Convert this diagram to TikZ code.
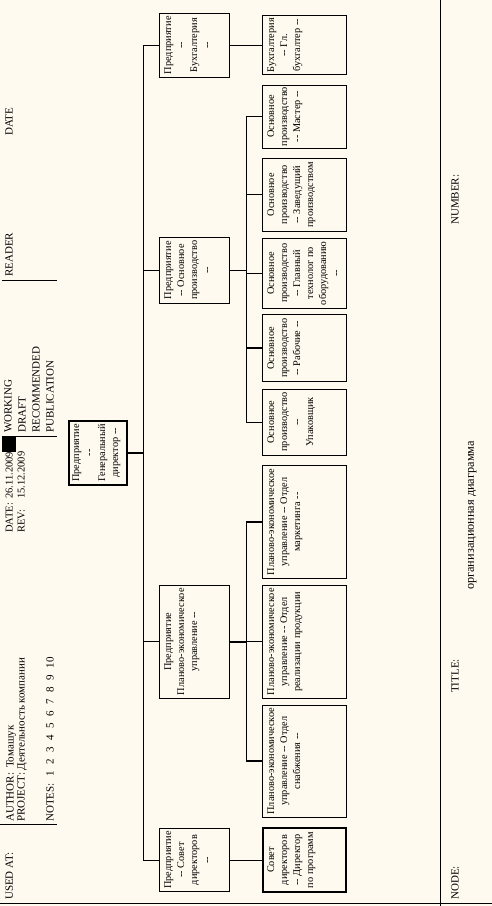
\documentclass[tikz,border=0pt]{standalone}
\usepackage{fontspec}
\setmainfont{Liberation Serif}
\usetikzlibrary{calc}
\definecolor{bgc}{RGB}{255,250,240}
\newcommand{\dsh}{-\kern0pt-}
\begin{document}
\begin{tikzpicture}[x=1pt,y=-1pt,
  box/.style={draw, line width=1pt, inner sep=0pt, outer sep=0pt},
  tbox/.style={box, line width=1.8pt},
  txt/.style={rotate=90, anchor=north, align=center, inner sep=0pt, font=\fontsize{10.3}{13}\selectfont},
  hd/.style={rotate=90, anchor=base west, inner sep=0pt, font=\fontsize{11}{13}\selectfont},
  hds/.style={hd, font=\fontsize{10.5}{13}\selectfont},
  ttl/.style={rotate=90, anchor=base west, inner sep=0pt, font=\fontsize{12.3}{14}\selectfont},
  frm/.style={line width=1pt},
  conn/.style={line width=1pt},
  tconn/.style={line width=2pt}]
\fill[bgc] (0,0) rectangle (492,906);
\useasboundingbox (0,0) rectangle (492,906);

% ---- header (left strip)
\node[hd] (usedat) at (12.8,900) {USED AT:};
\draw[frm] (0,824) -- (57,824);
\node[hd] (author) at (13.6,822) {AUTHOR:\hspace{5pt}Томашук};
\node[hd] (project) at (24.6,822) {PROJECT: Деятельность компании};
\node[hd] (notes) at (53.6,822) {NOTES:\hspace{7pt}1\hspace{6.5pt}2\hspace{6.5pt}3\hspace{6.5pt}4\hspace{6.5pt}5\hspace{6.5pt}6\hspace{6.5pt}7\hspace{6.5pt}8\hspace{6.5pt}9\hspace{6.5pt}10};
\node[hds] (date) at (12.6,533) {DATE:};
\node[hds] (datev) at (12.6,499) {26.11.2009};
\node[hds] (rev) at (24.6,533) {REV:};
\node[hds] (revv) at (24.6,499) {15.12.2009};
\fill[black] (2,436) rectangle (15,452);
\draw[frm] (15,436) -- (57,436);
\draw[frm] (15,436) -- (15,452);
\node[hd] (working) at (11.6,433) {WORKING};
\node[hd] (draft) at (25.6,433) {DRAFT};
\node[hd] (recom) at (39.6,433) {RECOMMENDED};
\node[hd] (publ) at (53.6,433) {PUBLICATION};
\draw[frm] (2,280) -- (57,280);
\node[hd] (reader) at (12.6,277) {READER};
\node[hd] (date2) at (12.6,136) {DATE};

% ---- footer (right strip)
\draw[frm] (0,903) -- (492,903);
\draw[frm] (440,0) -- (440,906);
\node[hd] (node) at (458.6,900) {NODE:};
\node[hd] (title) at (458.6,693) {TITLE:};
\node[ttl] (titlev) at (473.8,590) {организационная диаграмма};
\node[hd] (number) at (458.6,225) {NUMBER:};

% ---- root
\node[tbox, minimum width=57.4pt, minimum height=64.3pt] (root) at (98,452.8) {};
\node[txt] (roott) at ($(root.west)+(3,0)$) {Предприятие\\\dsh\\Генеральный\\директор \dsh};

% ---- level 1 (x 159.3..229.3)
\node[box, minimum width=70pt, minimum height=63.7pt] (l1a) at (194.3,860) {};
\node[txt] at ($(l1a.west)+(5,0)$) {Предприятие\\\dsh{} Совет\\директоров\\\dsh};
\node[box, minimum width=70pt, minimum height=113.3pt] (l1b) at (194.3,641.7) {};
\node[txt] at ($(l1b.west)+(5,0)$) {Предприятие\\Планово-экономическое\\управление \dsh};
\node[box, minimum width=70pt, minimum height=66pt] (l1c) at (194.3,270.3) {};
\node[txt] at ($(l1c.west)+(5,0)$) {Предприятие\\\dsh{} Основное\\производство\\\dsh};
\node[box, minimum width=70pt, minimum height=64pt] (l1d) at (194.3,45.3) {};
\node[txt] at ($(l1d.west)+(5,0)$) {Предприятие\\\dsh\\Бухгалтерия\\\dsh};

% ---- level 2 (x 262.7..346)
\node[tbox, minimum width=83.3pt, minimum height=63.4pt] (l2a) at (304.35,860) {};
\node[txt] at ($(l2a.west)+(4.4,0)$) {Совет\\директоров\\\dsh{} Директор\\по программ};
\node[box, minimum width=83.3pt, minimum height=112.3pt] (l2b) at (304.35,761.2) {};
\node[txt] at ($(l2b.west)+(4.4,0)$) {Планово-экономическое\\управление \dsh{} Отдел\\снабжения \dsh};
\node[box, minimum width=83.3pt, minimum height=113.3pt] (l2c) at (304.35,641.7) {};
\node[txt] at ($(l2c.west)+(4.4,0)$) {Планово-экономическое\\управление \dsh{} Отдел\\реализации продукции};
\node[box, minimum width=83.3pt, minimum height=112.6pt] (l2d) at (304.35,522) {};
\node[txt] at ($(l2d.west)+(4.4,0)$) {Планово-экономическое\\управление \dsh{} Отдел\\маркетинга \dsh};
\node[box, minimum width=83.3pt, minimum height=66pt] (l2e) at (304.35,422) {};
\node[txt] at ($(l2e.west)+(4.4,0)$) {Основное\\производство\\\dsh\\Упаковщик};
\node[box, minimum width=83.3pt, minimum height=66.7pt] (l2f) at (304.35,348.3) {};
\node[txt] at ($(l2f.west)+(4.4,0)$) {Основное\\производство\\\dsh{} Рабочие \dsh};
\node[box, minimum width=83.3pt, minimum height=70pt] (l2g) at (304.35,273.3) {};
\node[txt] at ($(l2g.west)+(4.4,0)$) {Основное\\производство\\\dsh{} Главный\\технолог по\\оборудованию\\\dsh};
\node[box, minimum width=83.3pt, minimum height=72.7pt] (l2h) at (304.35,194.7) {};
\node[txt] at ($(l2h.west)+(4.4,0)$) {Основное\\производство\\\dsh{} Заведущий\\производством};
\node[box, minimum width=83.3pt, minimum height=63pt] (l2i) at (304.35,116.5) {};
\node[txt] at ($(l2i.west)+(4.4,0)$) {Основное\\производство\\\dsh{} Мастер \dsh};
\node[box, minimum width=83.3pt, minimum height=59pt] (l2j) at (304.35,45.3) {};
\node[txt] at ($(l2j.west)+(4.4,0)$) {Бухгалтерия\\\dsh{} Гл.\\бухгалтер \dsh};

% ---- connectors root -> level 1
\draw[conn] (root.east) -- ++(16.3,0) |- (l1a.west);
\draw[conn] (root.east) -- ++(16.3,0) |- (l1b.west);
\draw[conn] (root.east) -- ++(16.3,0) |- (l1c.west);
\draw[conn] (root.east) -- ++(16.3,0) |- (l1d.west);
\draw[tconn] (root.east) -- ++(16.3,0);

% ---- level 1 -> level 2
\draw[conn] (l1a.east) -- (l2a.west);
\draw[conn] (l1b.east) -- ++(17.4,0) |- (l2b.west);
\draw[conn] (l1b.east) -- (l2c.west);
\draw[conn] (l1b.east) -- ++(17.4,0) |- (l2d.west);
\draw[tconn] (l1b.east) -- ++(17.4,0);
\draw[tconn] (l2d.west) -- ++(-16.4,0);
\draw[tconn] (l2b.west) -- ++(-16.4,0);
\draw[conn] (l1c.east) -- ++(17.4,0) |- (l2e.west);
\draw[conn] (l1c.east) -- ++(17.4,0) |- (l2f.west);
\draw[conn] (l1c.east) -- ++(17.4,0) |- (l2g.west);
\draw[conn] (l1c.east) -- ++(17.4,0) |- (l2h.west);
\draw[conn] (l1c.east) -- ++(17.4,0) |- (l2i.west);
\draw[tconn] (l2f.west) -- ++(-16.4,0);
\draw[conn] (l1d.east) -- (l2j.west);
\end{tikzpicture}
\end{document}
